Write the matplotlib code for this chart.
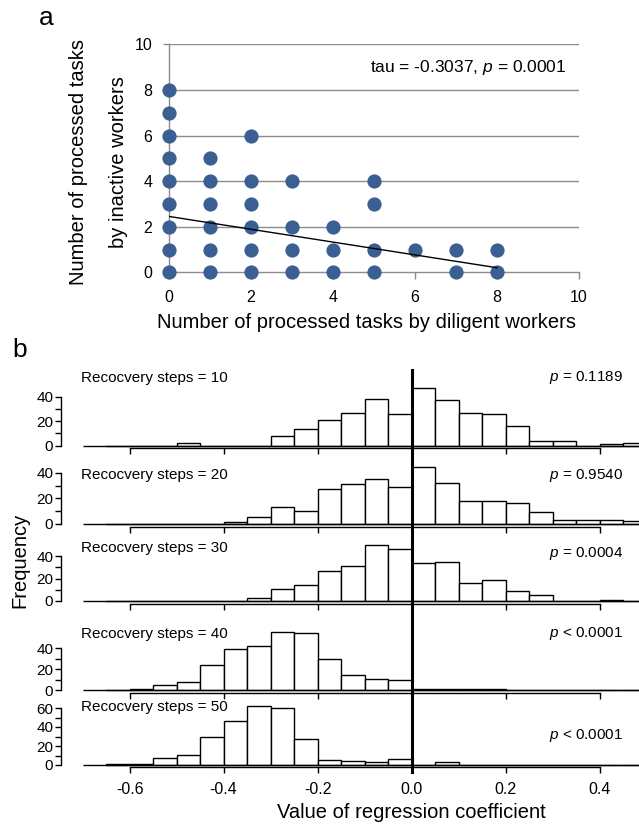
import matplotlib
matplotlib.use('Agg')
import matplotlib.pyplot as plt
import numpy as np
from matplotlib.lines import Line2D

plt.rcParams['font.family'] = ['Liberation Sans', 'DejaVu Sans']
plt.rcParams['mathtext.fontset'] = 'custom'
plt.rcParams['mathtext.it'] = 'Liberation Sans:italic'
plt.rcParams['mathtext.rm'] = 'Liberation Sans'

W, H = 639, 824

# ---------------- data: panel a ----------------
diligent = [0, 0, 0, 0, 0, 0, 0, 0, 0,
            1, 1, 1, 1, 1, 1,
            2, 2, 2, 2, 2, 2,
            3, 3, 3, 3,
            4, 4, 4,
            5, 5, 5, 5,
            6,
            7, 7,
            8, 8]
inactive = [0, 1, 2, 3, 4, 5, 6, 7, 8,
            0, 1, 2, 3, 4, 5,
            0, 1, 2, 3, 4, 6,
            0, 1, 2, 4,
            0, 1, 2,
            0, 1, 3, 4,
            1,
            0, 1,
            0, 1]
fit_x = [0, 8]
fit_y = [2.45, 0.20]
scatter_ticks = [0, 2, 4, 6, 8, 10]
tau_text = 'tau = -0.3037, $p$ = 0.0001'

# ---------------- data: panel b ----------------
bin_left = [-0.65, -0.60, -0.55, -0.50, -0.45, -0.40, -0.35, -0.30, -0.25, -0.20,
            -0.15, -0.10, -0.05, 0.00, 0.05, 0.10, 0.15, 0.20, 0.25, 0.30,
            0.35, 0.40, 0.45]
bin_width = 0.05
counts10 = [0, 0, 0, 2, 0, 0, 0, 8, 14, 21, 27, 38, 26, 47, 37, 27, 26, 16, 4, 4, 0, 1, 2]
counts20 = [0, 0, 0, 0, 0, 1, 5, 13, 10, 27, 31, 35, 29, 45, 32, 18, 18, 16, 9, 3, 3, 3, 2]
counts30 = [0, 0, 0, 0, 0, 0, 3, 11, 14, 27, 31, 50, 46, 34, 35, 16, 19, 9, 5, 0, 0, 1, 0]
counts40 = [0, 1, 5, 8, 24, 39, 42, 56, 55, 30, 15, 11, 10, 1, 1, 1, 1, 0, 0, 0, 0, 0, 0]
counts50 = [1, 1, 7, 11, 29, 46, 62, 60, 27, 5, 4, 3, 6, 0, 3, 0, 0, 0, 0, 0, 0, 0, 0]
steps = [10, 20, 30, 40, 50]
p_texts = ['$p$ = 0.1189', '$p$ = 0.9540', '$p$ = 0.0004', '$p$ < 0.0001', '$p$ < 0.0001']
hist_xticks = [-0.6, -0.4, -0.2, 0.0, 0.2, 0.4]
hist_xticklabels = ['-0.6', '-0.4', '-0.2', '0.0', '0.2', '0.4']
yaxis_top = [40, 40, 40, 40, 60]

fig = plt.figure(figsize=(W / 100, H / 100), dpi=100)


def fx(px):
    return px / W


def fy(py):
    return 1 - py / H


# ---------------- panel a ----------------
ax_l, ax_r, ax_t, ax_b = 169, 579, 44.3, 272.3
axa = fig.add_axes([fx(ax_l), fy(ax_b), fx(ax_r - ax_l), (ax_b - ax_t) / H])
axa.set_xlim(0, 10)
axa.set_ylim(0, 10)
grid_c = '#8c8c8c'
for yv in scatter_ticks[1:]:
    axa.axhline(yv, color=grid_c, lw=1.0, zorder=1)
for s in ['top', 'right']:
    axa.spines[s].set_visible(False)
axa.spines['left'].set_color(grid_c)
axa.spines['bottom'].set_color(grid_c)
axa.spines['left'].set_linewidth(1.0)
axa.spines['bottom'].set_linewidth(1.0)
axa.set_xticks(scatter_ticks)
axa.set_yticks(scatter_ticks)
axa.set_xticklabels([str(t) for t in scatter_ticks])
axa.set_yticklabels([str(t) for t in scatter_ticks])
axa.tick_params(axis='x', direction='out', length=5, width=1, color=grid_c, pad=8, labelsize=11.5)
axa.tick_params(axis='y', direction='out', length=4, width=1, color=grid_c, pad=8, labelsize=11.5)
axa.scatter(diligent, inactive, s=105, color='#3b5f92', zorder=3, clip_on=False, linewidths=0)
axa.plot(fit_x, fit_y, color='black', lw=1.0, zorder=4)
axa.text(0.968, 0.90, tau_text, transform=axa.transAxes, ha='right', va='center', fontsize=12.5)
fig.text(fx(366), fy(323), 'Number of processed tasks by diligent workers', ha='center', va='center', fontsize=14.5)
fig.text(fx(79), fy(162), 'Number of processed tasks', rotation=90, ha='center', va='center', fontsize=14.5)
fig.text(fx(118), fy(162), 'by inactive workers', rotation=90, ha='center', va='center', fontsize=14.5)
fig.text(fx(46), fy(18), 'a', ha='center', va='center', fontsize=19)

# ---------------- panel b ----------------
fig.text(fx(20), fy(350), 'b', ha='center', va='center', fontsize=19)
# zero_px, pixels per unit, ylo, yhi, label y, p y
panel_geom = [
    (445.7, 1.225, -2.1, 56, 378, 378),
    (523.7, 1.27, -2.4, 50, 475, 475),
    (601.0, 1.125, -2.6, 56, 548, 553),
    (690.3, 1.05, -2.4, 60, 634, 634),
    (765.0, 0.95, -2.5, 75, 707, 736),
]
all_counts = [counts10, counts20, counts30, counts40, counts50]
hx_left_px, hx_right_px = 61, 639
x0_px, ppx = 411.6, 470.0
xlo = (hx_left_px - x0_px) / ppx
xhi = (hx_right_px - x0_px) / ppx
axes_b = []
for i, (cnts, g) in enumerate(zip(all_counts, panel_geom)):
    z, ppu, ylo, yhi, ty, pty = g
    top_px = z - yhi * ppu
    bot_px = z - ylo * ppu
    ax = fig.add_axes([fx(hx_left_px), fy(bot_px), fx(hx_right_px - hx_left_px), (bot_px - top_px) / H])
    ax.set_xlim(xlo, xhi)
    ax.set_ylim(ylo, yhi)
    ax.patch.set_alpha(0)
    ax.bar(bin_left, cnts, width=bin_width, align='edge', color='white', edgecolor='black', lw=1.0, zorder=2)
    ax.plot([-0.70, 0.60], [0, 0], color='black', lw=1.0, zorder=3, solid_capstyle='butt')
    for s in ['top', 'right']:
        ax.spines[s].set_visible(False)
    ax.spines['left'].set_bounds(0, yaxis_top[i])
    ax.spines['bottom'].set_bounds(-0.6, 0.4)
    ax.spines['left'].set_linewidth(1.0)
    ax.spines['bottom'].set_linewidth(1.0)
    ax.set_yticks(list(range(0, yaxis_top[i] + 1, 10)))
    ax.set_yticklabels([str(v) if v % 20 == 0 else '' for v in range(0, yaxis_top[i] + 1, 10)])
    ax.set_xticks(hist_xticks)
    if i == 4:
        ax.set_xticklabels(hist_xticklabels)
    else:
        ax.set_xticklabels([])
    ax.tick_params(axis='y', direction='out', length=4, width=1, pad=1.5, labelsize=11)
    ax.tick_params(axis='x', direction='out', length=4.5, width=1, pad=6, labelsize=11.5)
    fig.text(fx(81), fy(ty), 'Recocvery steps = %d' % steps[i], ha='left', va='center', fontsize=11)
    fig.text(fx(623), fy(pty), p_texts[i], ha='right', va='center', fontsize=11)
    axes_b.append(ax)

fig.add_artist(Line2D([fx(x0_px), fx(x0_px)], [fy(370), fy(772)], color='black', lw=2.2,
                      transform=fig.transFigure))
fig.text(fx(411), fy(812), 'Value of regression coefficient', ha='center', va='center', fontsize=14.5)
fig.text(fx(20), fy(560), 'Frequency', rotation=90, ha='center', va='center', fontsize=14.5)

fig.savefig('out.png', dpi=100)
